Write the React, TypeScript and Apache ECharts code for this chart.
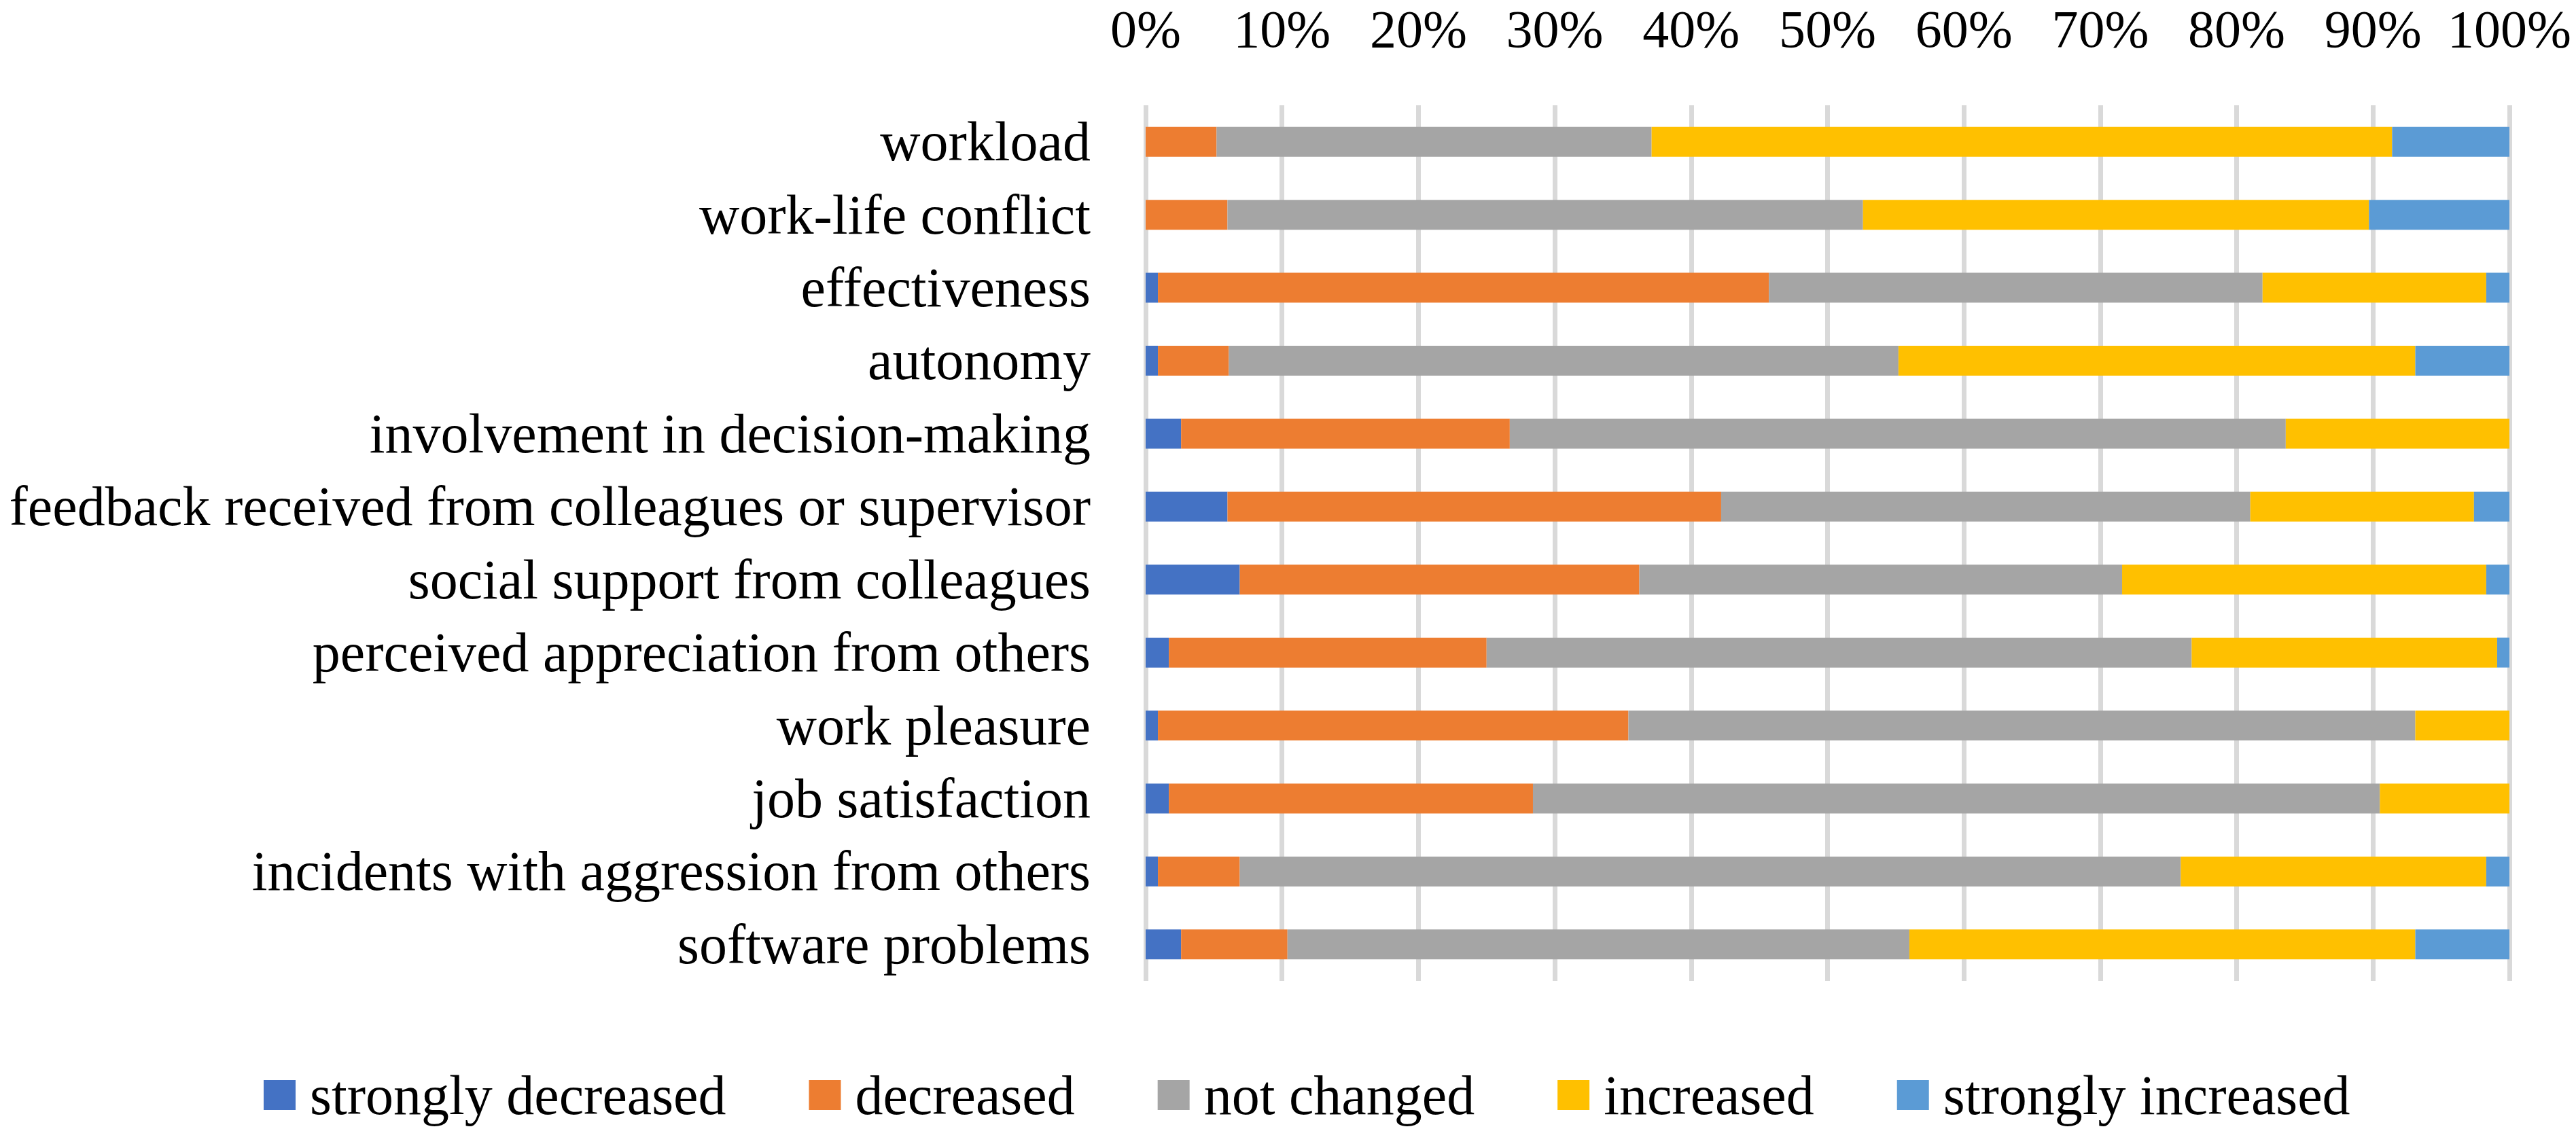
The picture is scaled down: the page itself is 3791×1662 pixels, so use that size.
import React, { useEffect, useRef } from "react";
import * as echarts from "echarts";

const categories = [
  "workload",
  "work-life conflict",
  "effectiveness",
  "autonomy",
  "involvement in decision-making",
  "feedback received from colleagues or supervisor",
  "social support from colleagues",
  "perceived appreciation from others",
  "work pleasure",
  "job satisfaction",
  "incidents with aggression from others",
  "software problems",
];

const seriesNames = ["strongly decreased", "decreased", "not changed", "increased", "strongly increased"];

const stronglyDecreased = [0, 0, 0.9, 0.9, 2.6, 6.0, 6.9, 1.7, 0.9, 1.7, 0.9, 2.6];
const decreased = [5.2, 6.0, 44.8, 5.2, 24.1, 36.2, 29.3, 23.3, 34.5, 26.7, 6.0, 7.8];
const notChanged = [31.9, 46.6, 36.2, 49.1, 56.9, 38.8, 35.4, 51.7, 57.7, 62.1, 69.0, 45.6];
const increased = [54.3, 37.1, 16.4, 37.9, 16.4, 16.4, 26.7, 22.4, 6.9, 9.5, 22.4, 37.1];
const stronglyIncreased = [8.6, 10.3, 1.7, 6.9, 0, 2.6, 1.7, 0.9, 0, 0, 1.7, 6.9];

const colors = ["#4472C4", "#ED7D31", "#A5A5A5", "#FFC000", "#5B9BD5"];

const xTicks = { min: 0, max: 100, interval: 10 };

export default function App() {
  const ref = useRef<HTMLDivElement>(null);
  useEffect(() => {
    if (!ref.current) return;
    const chart = echarts.init(ref.current, null, { renderer: "svg" });
    const font = "Liberation Serif";
    const seriesData = [stronglyDecreased, decreased, notChanged, increased, stronglyIncreased];
    chart.setOption({
      animation: false,
      backgroundColor: "#FFFFFF",
      color: colors,
      textStyle: { fontFamily: font },
      grid: { left: 1686, right: 98, top: 155, bottom: 218, containLabel: false },
      xAxis: {
        type: "value",
        position: "top",
        min: xTicks.min,
        max: xTicks.max,
        interval: xTicks.interval,
        axisLine: { show: false },
        axisTick: { show: false },
        axisLabel: {
          formatter: "{value}%",
          fontFamily: font,
          fontSize: 78,
          color: "#000000",
          verticalAlign: "middle",
          lineHeight: 70,
          margin: 113,
        },
        splitLine: { show: true, lineStyle: { color: "#D9D9D9", width: 7 } },
      },
      yAxis: {
        type: "category",
        data: categories,
        inverse: true,
        axisLine: { show: false },
        axisTick: { show: false },
        axisLabel: {
          fontFamily: font,
          fontSize: 82,
          color: "#000000",
          margin: 81,
        },
      },
      legend: {
        left: 383,
        top: 1566,
        itemWidth: 47,
        itemHeight: 44,
        itemGap: 122,
        icon: "rect",
        data: seriesNames,
        textStyle: {
          fontFamily: font,
          fontSize: 82,
          color: "#000000",
          padding: [0, 0, 0, 16],
          lineHeight: 82,
        },
      },
      series: seriesNames.map((name, i) => ({
        name,
        type: "bar",
        stack: "total",
        barWidth: 44,
        data: seriesData[i],
        itemStyle: { color: colors[i] },
        emphasis: { disabled: true },
      })),
    });
    return () => chart.dispose();
  }, []);
  return (
    <div
      ref={ref}
      style={{ position: "absolute", left: 0, top: 0, width: 3791, height: 1662, background: "#fff" }}
    />
  );
}
